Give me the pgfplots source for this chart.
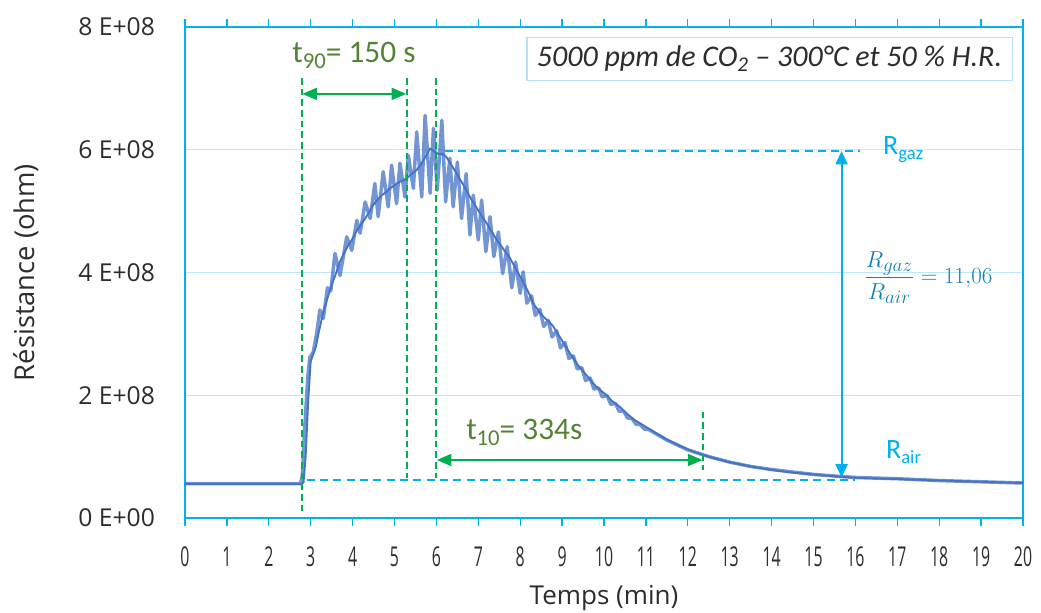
\documentclass[border=0pt]{standalone}
\usepackage{pgfplots}
\pgfplotsset{compat=1.18}
\usetikzlibrary{arrows.meta}
\usepackage{fontspec}
\setmainfont{Open Sans}
\newfontfamily\carlito{Carlito}
\definecolor{axc}{RGB}{0,176,240}
\definecolor{gridc}{RGB}{190,232,250}
\definecolor{grn}{RGB}{0,176,80}
\definecolor{olivec}{RGB}{84,130,53}
\definecolor{lineb}{RGB}{68,114,196}
\definecolor{ratioc}{RGB}{20,125,175}
\definecolor{boxc}{RGB}{185,225,245}
\definecolor{txt}{RGB}{45,45,45}
\begin{document}
\begin{tikzpicture}
\useasboundingbox (-138.75pt,-71.25pt) rectangle (642pt,388.5pt);
\begin{axis}[
  at={(0pt,0pt)}, anchor=south west,
  scale only axis, width=628.5pt, height=368.25pt,
  xmin=0, xmax=20, ymin=0, ymax=8,
  xtick={0,1,...,20},
  ytick={0,2,4,6,8},
  yticklabels={0 E+00,2 E+08,4 E+08,6 E+08,8 E+08},
  axis line style={draw=axc, line width=1.2pt},
  tick align=outside,
  xtick style={draw=axc, line width=1pt},
  major tick length=6pt,
  ytick style={draw=none},
  ymajorgrids, grid style={draw=gridc, line width=1pt},
  xticklabel={\scalebox{0.58}[1]{\pgfmathprintnumber{\tick}}},
  xticklabel style={font=\fontsize{20.5}{24}\selectfont, text=txt, /pgf/number format/assume math mode=true, anchor=north, yshift=-12pt},
  yticklabel style={font=\fontsize{18.5}{22}\selectfont, text=txt, anchor=east, xshift=-13pt},
  xlabel={Temps (min)}, ylabel={Résistance (ohm)},
  xlabel style={font=\fontsize{19.5}{22}\selectfont, text=txt, at={(axis description cs:0.5,-0.163)}, anchor=center},
  ylabel style={font=\fontsize{20.5}{22}\selectfont, text=txt, at={(axis description cs:-0.19,0.5)}, anchor=center},
  clip=false,
]
% oscillating (thick, light) series, resistance in units of 1E+08 ohm
\addplot[lineb, opacity=0.75, line width=2.6pt, line join=round] coordinates {
(0,0.56)(1,0.56)(2,0.56)(2.76,0.56)(2.80,0.7)(2.86,1.5)(2.93,2.3)(2.98,2.62)(3.06,2.70)(3.14,3.0)(3.22,3.39)(3.30,3.25)(3.40,3.75)(3.48,3.70)(3.58,4.31)(3.70,3.95)(3.86,4.58)(3.98,4.36)(4.10,4.85)(4.18,4.64)(4.30,5.15)(4.42,4.88)(4.53,5.45)(4.61,4.91)(4.73,5.64)(4.85,5.07)(4.93,5.75)(5.05,5.12)(5.13,5.78)(5.25,5.23)(5.33,5.91)(5.45,5.37)(5.53,6.29)(5.65,5.23)(5.73,6.56)(5.85,5.29)(5.93,6.35)(6.02,5.34)(6.13,6.48)(6.22,5.15)(6.32,5.86)(6.40,5.07)(6.50,5.80)(6.60,4.88)(6.71,5.61)(6.80,4.61)(6.88,5.26)(7.00,4.53)(7.08,5.18)(7.18,4.34)(7.28,4.91)(7.37,4.26)(7.48,4.66)(7.58,3.98)(7.69,4.42)(7.80,3.75)(7.89,4.17)(8.00,3.66)(8.07,4.01)(8.16,3.50)(8.27,3.62)(8.36,3.30)(8.47,3.40)(8.56,3.12)(8.67,3.22)(8.76,2.95)(8.87,3.05)(8.96,2.77)(9.07,2.86)(9.16,2.60)(9.27,2.64)(9.36,2.43)(9.47,2.45)(9.56,2.24)(9.67,2.28)(9.76,2.10)(9.87,2.12)(9.96,1.97)(10.07,2.00)(10.16,1.85)(10.27,1.87)(10.36,1.74)(10.47,1.74)(10.56,1.63)(10.67,1.62)(10.76,1.53)(10.87,1.52)(10.96,1.45)(11.07,1.44)(11.5,1.27)(12.0,1.11)(12.5,1.00)(13.0,0.91)(13.5,0.84)(14.0,0.79)(15.0,0.71)(16.0,0.66)(17.0,0.64)(18.0,0.61)(19.0,0.59)(20.0,0.57)
};
% smooth (thin, dark) series
\addplot[lineb, line width=1.4pt, line join=round] coordinates {
(0,0.555)(1,0.555)(2,0.555)(2.78,0.555)(2.83,0.58)(2.88,1.0)(2.94,1.9)(3.0,2.55)(3.05,2.65)(3.12,2.78)(3.2,3.05)(3.3,3.35)(3.4,3.58)(3.46,3.71)(3.5,3.80)(3.6,3.98)(3.7,4.18)(3.8,4.32)(3.9,4.45)(3.98,4.53)(4.1,4.68)(4.22,4.80)(4.3,4.88)(4.4,4.99)(4.49,5.10)(4.6,5.19)(4.7,5.26)(4.8,5.31)(4.89,5.37)(5.0,5.42)(5.1,5.47)(5.2,5.50)(5.29,5.53)(5.4,5.60)(5.53,5.67)(5.65,5.78)(5.75,5.90)(5.85,6.02)(5.95,5.97)(6.05,5.93)(6.15,5.93)(6.24,5.88)(6.35,5.76)(6.45,5.65)(6.55,5.53)(6.65,5.42)(6.8,5.23)(6.9,5.12)(7.0,5.01)(7.1,4.90)(7.2,4.80)(7.3,4.69)(7.44,4.53)(7.55,4.43)(7.65,4.33)(7.75,4.24)(7.85,4.12)(7.95,3.99)(8.05,3.87)(8.15,3.74)(8.23,3.63)(8.31,3.50)(8.4,3.41)(8.5,3.32)(8.6,3.25)(8.7,3.19)(8.79,3.12)(8.9,3.00)(9.0,2.89)(9.1,2.78)(9.19,2.68)(9.3,2.57)(9.4,2.47)(9.5,2.39)(9.59,2.32)(9.7,2.23)(9.8,2.15)(9.9,2.09)(10.06,2.00)(10.2,1.90)(10.38,1.81)(10.5,1.73)(10.7,1.61)(10.94,1.51)(11.2,1.40)(11.5,1.28)(11.8,1.18)(12.1,1.09)(12.36,1.03)(12.7,0.96)(13.0,0.91)(13.5,0.84)(14.03,0.78)(14.5,0.74)(15.0,0.71)(15.63,0.67)(16.2,0.65)(17.0,0.635)(17.6,0.62)(18.3,0.605)(19.0,0.59)(19.5,0.58)(20,0.57)
};
% annotations
\draw[axc, line width=1.3pt, dash pattern=on 6pt off 4pt] (axis cs:6.2,5.98) -- (axis cs:16.1,5.98);
\draw[axc, line width=1.3pt, dash pattern=on 6pt off 4pt] (axis cs:2.9,0.62) -- (axis cs:16.0,0.62);
\draw[draw=grn, line width=1.4pt, dash pattern=on 5pt off 3pt] (axis cs:5.30,7.17) -- (axis cs:5.30,0.65);
\draw[draw=grn, line width=1.4pt, dash pattern=on 5pt off 3pt] (axis cs:5.99,7.17) -- (axis cs:5.99,0.65);
\draw[draw=grn, line width=1.4pt, dash pattern=on 5pt off 3pt] (axis cs:12.37,1.73) -- (axis cs:12.37,0.78);
\draw[draw=grn, line width=1.4pt, dash pattern=on 5pt off 3pt] (axis cs:2.785,7.17) -- (axis cs:2.785,0.1);
\draw[grn, line width=1.5pt, {Triangle[length=11pt,width=9pt]}-{Triangle[length=11pt,width=9pt]}] (axis cs:2.80,6.91) -- (axis cs:5.28,6.91);
\draw[grn, line width=1.5pt, {Triangle[length=11pt,width=9pt]}-{Triangle[length=11pt,width=9pt]}] (axis cs:6.01,0.945) -- (axis cs:12.35,0.945);
\draw[axc, line width=1.5pt, {Triangle[length=10pt,width=9pt]}-{Triangle[length=10pt,width=9pt]}] (axis cs:15.67,5.98) -- (axis cs:15.67,0.66);
\node[anchor=west, text=axc, font=\carlito\fontsize{21}{24}\selectfont] at (axis cs:16.55,6.0) {R\raisebox{-0.35ex}{\fontsize{14}{16}\selectfont gaz}};
\node[anchor=west, text=axc, font=\carlito\fontsize{21}{24}\selectfont] at (axis cs:16.62,1.07) {R\raisebox{-0.35ex}{\fontsize{14}{16}\selectfont air}};
\node[anchor=west, text=ratioc, font=\fontsize{19}{23}\selectfont] at (axis cs:16.1,3.91) {$\displaystyle\frac{R_{gaz}}{R_{air}} = 11{,}06$};
\node[anchor=west, text=olivec, font=\carlito\fontsize{23.5}{26}\selectfont] at (axis cs:2.45,7.54) {t\raisebox{-0.4ex}{\fontsize{17}{19}\selectfont 90}= 150 s};
\node[anchor=west, text=olivec, font=\carlito\fontsize{23.5}{26}\selectfont] at (axis cs:6.6,1.40) {t\raisebox{-0.4ex}{\fontsize{17}{19}\selectfont 10}= 334s};
\draw[boxc, line width=0.9pt, fill=white] (axis cs:8.16,7.83) rectangle (axis cs:19.74,7.13);
\node[text=txt, font=\carlito\itshape\fontsize{22.5}{26}\selectfont] at (axis cs:13.95,7.48) {5000 ppm de CO\textsubscript{2} – 300°C et 50 \% H.R.};
\end{axis}
\end{tikzpicture}
\end{document}
